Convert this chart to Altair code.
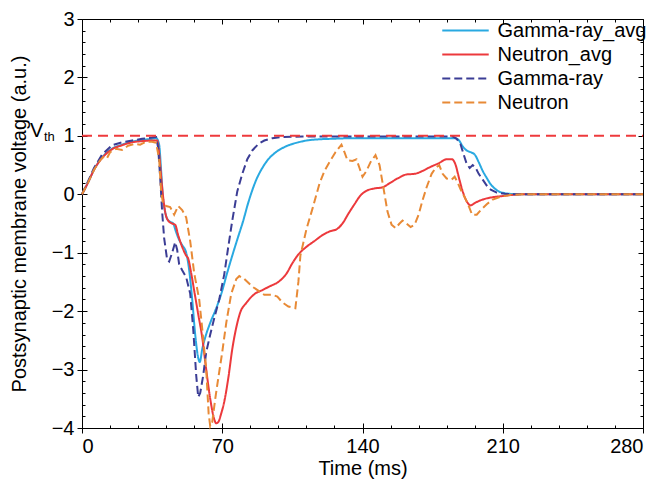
import altair as alt
import pandas as pd

# ---------------- data ----------------
series_names = ["Gamma-ray_avg", "Neutron_avg", "Gamma-ray", "Neutron"]
series_colors = ["#29A9E1", "#EC393C", "#3B3D95", "#E88A36"]
series_dash = [[1, 0], [1, 0], [8, 4], [8, 4]]

gamma_avg_t = [0, 3, 6, 10, 15, 20, 25, 30, 35, 37,
               38.5, 39.5, 40.5, 41.5, 42.5, 44, 45.5, 47, 48.5, 50,
               52, 53.5, 55, 56.5, 58, 58.8, 60, 61.5, 64, 67,
               70, 72, 75, 78, 80.5, 82.5, 84.5, 87, 90, 93,
               96, 100, 104, 108, 112, 118, 125, 135, 150, 170,
               186, 188, 190, 192, 194, 196, 198, 200, 202, 204,
               206, 208, 211, 215, 220, 240, 260, 280]
gamma_avg_v = [0, 0.2, 0.42, 0.63, 0.78, 0.85, 0.9, 0.93, 0.95, 0.96,
               0.85, 0.4, -0.1, -0.3, -0.42, -0.47, -0.5, -0.65, -0.78, -0.87,
               -1.0, -1.3, -1.8, -2.4, -2.8, -2.87, -2.65, -2.45, -2.2, -1.95,
               -1.65, -1.4, -1.05, -0.72, -0.45, -0.2, 0.02, 0.25, 0.45, 0.6,
               0.7, 0.79, 0.85, 0.89, 0.92, 0.94, 0.95, 0.96, 0.96, 0.96,
               0.96, 0.93, 0.82, 0.75, 0.72, 0.68, 0.55, 0.4, 0.28, 0.17,
               0.1, 0.05, 0.02, 0.005, 0, 0, 0, 0]

neutron_avg_t = [0, 3, 6, 10, 15, 20, 25, 30, 35, 37.5,
                 38.5, 39.5, 40.5, 41.5, 43, 45, 46.5, 48, 50, 52,
                 53, 54.5, 56, 58, 60, 62, 64, 66, 67, 68,
                 69.5, 71, 73, 75, 77, 79, 82, 86, 90, 94,
                 98, 102, 105, 108, 112, 116, 120, 124, 127, 130,
                 133, 136, 139, 142, 146, 150, 154, 158, 162, 166,
                 170, 174, 178, 182, 184.5, 186.5, 188, 190, 192, 194,
                 196, 200, 205, 210, 215, 220, 250, 280]
neutron_avg_v = [0, 0.2, 0.42, 0.62, 0.77, 0.84, 0.89, 0.91, 0.92, 0.92,
                 0.7, 0.3, -0.05, -0.3, -0.45, -0.5, -0.52, -0.7, -0.9, -1.05,
                 -1.1, -1.35, -1.65, -2.05, -2.45, -3.0, -3.5, -3.85, -3.92, -3.9,
                 -3.75, -3.55, -3.15, -2.65, -2.28, -2.02, -1.86, -1.71, -1.64, -1.57,
                 -1.5, -1.36, -1.18, -1.03, -0.9, -0.8, -0.7, -0.63, -0.6, -0.5,
                 -0.33, -0.17, -0.02, 0.06, 0.1, 0.12, 0.2, 0.28, 0.34, 0.35,
                 0.4, 0.47, 0.53, 0.6, 0.6, 0.5, 0.3, 0.05, -0.12, -0.19,
                 -0.15, -0.09, -0.05, -0.03, -0.01, 0, 0, 0]

gamma_t = [0, 3, 6, 10, 15, 20, 25, 30, 35, 37,
           38, 39, 40, 41, 42.5, 43.5, 45, 46.5, 47.5, 48.5,
           50, 52, 54, 55.5, 57, 58, 59, 60.5, 62, 64,
           66, 68.5, 71, 73, 75, 77.5, 80, 82.5, 85, 88,
           91, 95, 100, 110, 140, 170, 185, 187, 189, 190.5,
           192, 193.5, 195, 196.5, 198, 200, 202, 204, 207, 211,
           215, 240, 280]
gamma_v = [0, 0.22, 0.45, 0.68, 0.84, 0.89, 0.92, 0.95, 0.97, 0.98,
           0.8, 0.3, -0.3, -0.75, -1.12, -1.15, -1.0, -0.82, -0.95, -1.2,
           -1.3, -1.42, -1.7, -2.3, -3.1, -3.47, -3.4, -3.1, -2.7, -2.4,
           -2.12, -1.8, -1.37, -0.9, -0.45, 0.05, 0.35, 0.6, 0.75, 0.86,
           0.92, 0.96, 0.98, 0.99, 0.99, 0.99, 0.99, 0.95, 0.85, 0.68,
           0.52, 0.45, 0.5, 0.45, 0.35, 0.25, 0.15, 0.08, 0.03, 0.01,
           0, 0, 0]

neutron_t = [0, 3, 6, 9, 11, 12.5, 14, 17, 20, 23,
             26, 29, 32, 35, 37, 38.5, 39.5, 40.5, 42, 44,
             46, 48, 50, 52, 54, 56, 58.5, 60, 62, 63.2,
             64, 65, 66.5, 68, 70, 72, 74.5, 77, 78.5, 81,
             85, 88, 91, 95, 97.5, 100, 103, 106.5, 108, 109,
             112, 115, 118.5, 121, 123.5, 126.5, 129.5, 131, 132.5, 135,
             137, 138.5, 140, 142, 144, 146.5, 148.5, 150.5, 152.5, 154.5,
             156.5, 158.5, 160, 162, 164, 166, 168, 170, 172, 174.5,
             176.5, 178.3, 180, 182, 184.5, 186, 187.5, 189, 191, 193,
             194.7, 197, 199, 202, 205, 209, 214, 220, 250, 280]
neutron_v = [0, 0.2, 0.42, 0.58, 0.65, 0.62, 0.72, 0.78, 0.76, 0.83,
             0.86, 0.85, 0.9, 0.9, 0.88, 0.6, 0.05, -0.17, -0.2, -0.22,
             -0.35, -0.2, -0.27, -0.4, -0.8, -1.35, -1.8, -2.3, -3.0, -3.75,
             -3.97, -3.9, -3.5, -3.15, -2.7, -2.2, -1.7, -1.45, -1.4, -1.45,
             -1.58, -1.65, -1.72, -1.72, -1.75, -1.85, -1.92, -1.95, -1.5, -1.05,
             -0.6, -0.25, 0.18, 0.4, 0.55, 0.72, 0.85, 0.72, 0.58, 0.57,
             0.6, 0.45, 0.3, 0.4, 0.55, 0.67, 0.5, 0.1, -0.3, -0.52,
             -0.58, -0.5, -0.45, -0.5, -0.56, -0.52, -0.35, -0.1, 0.12, 0.35,
             0.45, 0.5, 0.35, 0.27, 0.25, 0.3, 0.2, 0.08, -0.05, -0.2,
             -0.35, -0.35, -0.27, -0.17, -0.09, -0.04, -0.01, 0, 0, 0]

threshold_value = [1.0]
threshold_span = [0, 280]

x_major = [0, 70, 140, 210, 280]
x_all = [14 * i for i in range(21)]
y_major = [-4, -3, -2, -1, 0, 1, 2, 3]
y_all = [round(-4 + 0.2 * i, 1) for i in range(36)]


def frame(name, ts, vs):
    assert len(ts) == len(vs), name
    return pd.DataFrame({"t": ts, "v": vs, "series": name})


df = pd.concat([
    frame(series_names[0], gamma_avg_t, gamma_avg_v),
    frame(series_names[1], neutron_avg_t, neutron_avg_v),
    frame(series_names[2], gamma_t, gamma_v),
    frame(series_names[3], neutron_t, neutron_v),
], ignore_index=True)

df_th = pd.DataFrame({"v": threshold_value, "x0": [threshold_span[0]], "x1": [threshold_span[1]]})

# ---------------- chart ----------------
W, H = 561, 409
FONT = "Liberation Sans"

xs = alt.Scale(domain=[0, 280], nice=False, zero=False)
ys = alt.Scale(domain=[-4, 3], nice=False, zero=False)

legend = alt.Legend(
    title=None, orient="none", legendX=373.5, legendY=1.5,
    symbolType="M-3,0H3", symbolSize=240, symbolStrokeWidth=2,
    labelFontSize=20, labelFont=FONT, labelColor="black", labelLimit=0,
    rowPadding=4, labelOffset=22, padding=0,
)
color_enc = alt.Color("series:N", sort=series_names,
                      scale=alt.Scale(domain=series_names, range=series_colors), legend=legend)
dash_enc = alt.StrokeDash("series:N", sort=series_names,
                          scale=alt.Scale(domain=series_names, range=series_dash), legend=legend)

common_axis = dict(grid=False, domainColor="black", tickColor="black", labelColor="black",
                   titleColor="black", labelFont=FONT, titleFont=FONT, labelFontSize=20,
                   titleFontSize=20, titleFontWeight="normal", domainWidth=1, tickWidth=1)

x_main_axis = alt.Axis(values=x_major, tickSize=5, labelPadding=3, title="Time (ms)",
                       titlePadding=2, format="d", **common_axis)
y_main_axis = alt.Axis(values=y_major, tickSize=5, labelPadding=3,
                       title="Postsynaptic membrane voltage (a.u.)", titlePadding=22,
                       format="d", **common_axis)

x_tick_cond = {"condition": {"test": "datum.value % 70 === 0", "value": 5}, "value": 3}
y_tick_cond = {"condition": {"test": "datum.value % 1 === 0", "value": 5}, "value": 3}


def tick_axis(orient, offset, values, cond, domain):
    return alt.Axis(orient=orient, offset=offset, values=values, tickSize=cond, labels=False,
                    domain=domain, title=None, grid=False, tickColor="black",
                    domainColor="black", domainWidth=1, tickWidth=1)


only_avg = alt.FieldOneOfPredicate(field="series", oneOf=series_names[:2])
only_raw = alt.FieldOneOfPredicate(field="series", oneOf=series_names[2:])

solid = alt.Chart(df).transform_filter(only_avg).mark_line(
    interpolate="monotone", strokeWidth=2
).encode(
    x=alt.X("t:Q", scale=xs, axis=x_main_axis),
    y=alt.Y("v:Q", scale=ys, axis=y_main_axis),
    color=color_enc, strokeDash=dash_enc,
)

dashed = alt.Chart(df).transform_filter(only_raw).mark_line(strokeWidth=2).encode(
    x=alt.X("t:Q", scale=xs, axis=None),
    y=alt.Y("v:Q", scale=ys, axis=None),
    color=color_enc, strokeDash=dash_enc,
)

thr = alt.Chart(df_th).mark_rule(color="#EE3A3C", strokeWidth=2, strokeDash=[10, 6]).encode(
    x=alt.X("x0:Q", scale=xs, axis=None),
    x2="x1:Q",
    y=alt.Y("v:Q", scale=ys, axis=None),
)

v_label = alt.Chart(df_th).mark_text(
    text="V", font=FONT, fontSize=20, align="left", baseline="alphabetic", dy=1, color="black"
).encode(x=alt.value(-52), y=alt.Y("v:Q", scale=ys, axis=None))

th_label = alt.Chart(df_th).mark_text(
    text="th", font=FONT, fontSize=13, align="left", baseline="alphabetic", dy=5, color="black"
).encode(x=alt.value(-38), y=alt.Y("v:Q", scale=ys, axis=None))

frame_in = alt.Chart(df).mark_point(opacity=0).encode(
    x=alt.X("t:Q", scale=xs, axis=tick_axis("top", -H, x_all, x_tick_cond, False)),
    y=alt.Y("v:Q", scale=ys, axis=tick_axis("right", -W, y_all, y_tick_cond, False)),
)

frame_out = alt.Chart(df).mark_point(opacity=0).encode(
    x=alt.X("t:Q", scale=xs, axis=tick_axis("bottom", -H, x_all, x_tick_cond, True)),
    y=alt.Y("v:Q", scale=ys, axis=tick_axis("left", -W, y_all, y_tick_cond, True)),
)

chart = alt.layer(solid, dashed, thr, v_label, th_label, frame_in, frame_out).resolve_axis(
    x="independent", y="independent"
).properties(
    width=W, height=H,
    padding={"left": 74, "top": 11, "right": 17, "bottom": 55},
    autosize=alt.AutoSizeParams(type="none"),
).configure_view(stroke=None)

chart.save("out.html", embed_options={"renderer": "svg", "actions": False})
